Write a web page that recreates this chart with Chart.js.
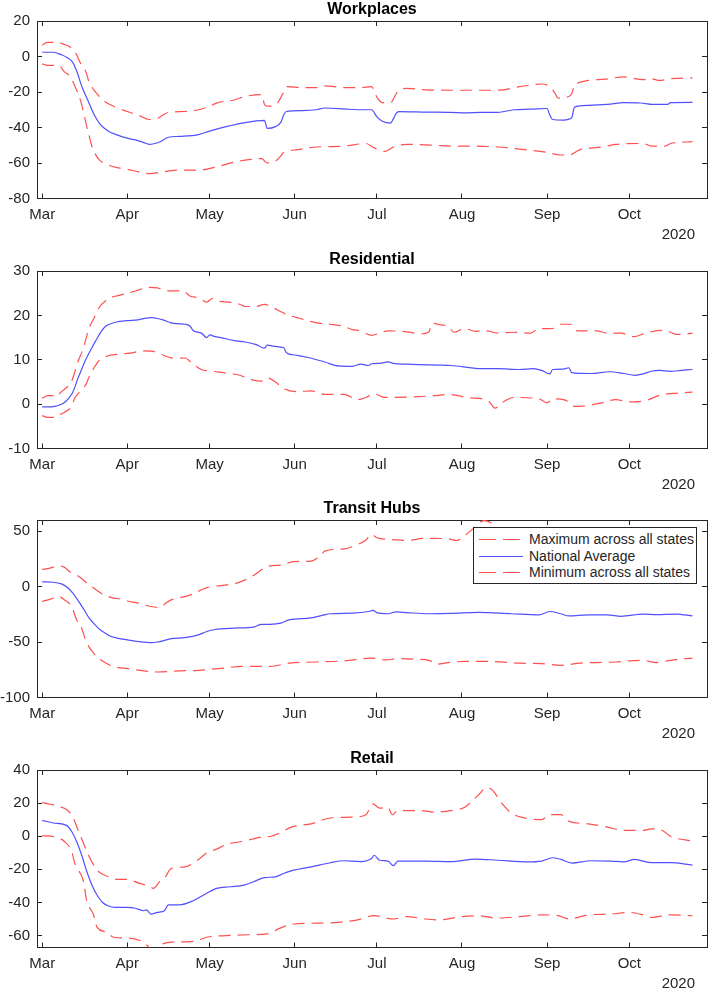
<!DOCTYPE html>
<html>
<head>
<meta charset="utf-8">
<script src="https://cdn.jsdelivr.net/npm/chart.js@4.4.1/dist/chart.umd.min.js"></script>
<style>
html,body{margin:0;padding:0;background:#fff;overflow:hidden;width:709px;height:989px;}
.panel{position:absolute;left:0;width:709px;height:250px;}
#legend{position:absolute;left:473px;top:527px;width:222px;height:55px;border:1px solid #262626;background:#fff;font-family:"Liberation Sans",Arial,sans-serif;font-size:14px;color:#262626;}
#legend .row{position:absolute;left:0;height:17px;width:222px;}
#legend svg{position:absolute;left:5px;top:0;}
#legend span{position:absolute;left:55px;top:0;line-height:17px;white-space:nowrap;}
</style>
</head>
<body>
<canvas id="c0" class="panel" width="709" height="250" style="top:0px"></canvas>
<canvas id="c1" class="panel" width="709" height="250" style="top:250px"></canvas>
<canvas id="c2" class="panel" width="709" height="250" style="top:499px"></canvas>
<canvas id="c3" class="panel" width="709" height="250" style="top:749px"></canvas>
<div id="legend"></div>
<script>
// ---- Data (x = days since 1 March 2020) ----
const startDate = "2020-03-01";
const yearLabel = "2020";
const monthDays = [0, 31, 61, 92, 122, 153, 184, 214];
const monthLabels = ["Mar", "Apr", "May", "Jun", "Jul", "Aug", "Sep", "Oct"];
const chartTitles = ["Workplaces", "Residential", "Transit Hubs", "Retail"];
const seriesNames = ["Maximum across all states", "National Average", "Minimum across all states"];

const workTicks = [-80, -60, -40, -20, 0, 20];
const resTicks = [-10, 0, 10, 20, 30];
const transitTicks = [-100, -50, 0, 50];
const retailTicks = [-60, -40, -20, 0, 20, 40];

const workMax = [[0,6.2],[1,7.5],[2,8],[5,8],[8,6.8],[10,5.5],[12,2.4],[13,-0.5],[14,-4],[16,-9],[17,-14],[18,-17],[20,-21],[22,-24.5],[26,-28],[31,-31],[35,-33],[39,-35.5],[42,-35],[44,-33],[46,-31.5],[52,-31],[57,-30],[61,-28],[64,-26],[70,-24.5],[74,-22.5],[80,-21.5],[81,-27],[82,-28],[85,-27.5],[87,-23],[88,-20],[89,-17],[95,-17.5],[100,-17.5],[103,-16.5],[110,-17.5],[116,-17.5],[120,-17],[122,-23],[124,-26],[127,-26],[129,-21],[130,-19],[133,-18],[140,-18.8],[149,-19],[157,-19],[166,-19],[174,-17],[182,-15.5],[185,-17],[187,-21],[188,-23.5],[191,-23],[193,-21],[194,-16],[195,-15],[199,-13.5],[205,-12.8],[212,-11.5],[219,-13],[222,-12.5],[225,-13.5],[229,-12.5],[237,-12]];
const workAvg = [[0,2.4],[4,2.4],[7,1],[9,-0.5],[11,-3],[12,-6],[13,-10],[14,-15],[15,-19],[17,-26],[19,-33],[21,-38],[24,-42],[27,-44],[31,-46],[34,-47],[37,-48.5],[39,-49.5],[41,-49],[43,-48],[46,-45.5],[50,-45],[57,-44],[61,-42],[67,-39.5],[73,-37.5],[81,-36],[82,-40.5],[85,-39.5],[87,-37],[88,-33],[89,-31],[95,-30.5],[100,-30],[103,-29],[110,-29.5],[115,-30],[120,-30],[122,-34],[124,-36.5],[127,-37.5],[128,-35],[129,-32],[130,-31],[140,-31.3],[149,-31.5],[154,-31.8],[160,-31.5],[166,-31.5],[172,-30],[178,-29.7],[184,-29.3],[185,-33],[186,-35.5],[190,-35.8],[193,-34.5],[194,-28.5],[199,-27.5],[206,-27],[212,-26],[218,-26.2],[220,-26.5],[222,-27],[228,-27],[229,-26],[237,-25.8]];
const workMin = [[0,-4.2],[2,-5],[4,-5],[6,-5],[8,-8.5],[10,-11],[12,-17],[14,-25],[15,-31],[16,-38],[17,-44],[18,-50],[19,-54],[21,-58.5],[24,-61],[27,-62.5],[31,-63.5],[35,-65],[39,-66],[44,-65],[50,-64],[57,-64],[64,-62],[70,-59.5],[76,-58],[80,-57.5],[82,-60],[85,-59],[87,-56],[88,-54],[93,-52.5],[100,-51],[110,-50.5],[118,-49],[121,-51.5],[125,-53.5],[128,-51],[133,-49.5],[143,-50],[149,-50.5],[157,-50.5],[166,-51],[176,-52.5],[184,-54],[189,-55.5],[192,-55.5],[196,-52.5],[204,-51],[209,-49.5],[219,-49],[222,-50.5],[227,-50.5],[229,-49],[237,-48]];

const resMax = [[0,1.3],[2,1.9],[4,1.9],[5,1.6],[7,2.8],[9,3.8],[10.5,4.8],[12,7.5],[13,9.5],[15,12.6],[17,17],[19,19.5],[21,22],[23,23.2],[25,24],[28,24.5],[31,25],[34,25.5],[39,26.3],[42,26.2],[45,25.5],[50,25.5],[52,25.3],[54,24.3],[57,24],[60,23],[62,23.8],[64,23.2],[68,23],[72,22.5],[74,22],[78,22],[81,22.5],[84,21.8],[87,20.8],[90,20],[94,19.3],[100,18.3],[105,18],[110,17.5],[113,16.8],[116,16.5],[120,15.5],[123,16],[126,16.5],[133,16.3],[138,15.8],[141,16.3],[142,18.2],[146,17.8],[148,17.6],[150,16.2],[154,17],[158,16.4],[162,16.5],[166,16],[172,16.2],[178,16],[181,17],[185,17],[187,17.2],[189,18],[193,18],[195,16.5],[202,16.5],[206,16],[211,16],[215.5,15.2],[220,16],[225,16.6],[229,16.2],[231,15.7],[235,15.8],[237,16]];
const resAvg = [[0,-0.6],[3,-0.6],[5,-0.45],[8,0.3],[10,1.6],[11,2.5],[12,4],[13,5.8],[14,7.3],[15,8.8],[16,10.2],[18,12.6],[20,14.8],[21,15.9],[23,17.5],[25,18.1],[27,18.5],[31,18.8],[35,19],[38,19.4],[40,19.5],[42,19.3],[44,19],[47,18.3],[50,18.1],[52,18],[54,17.5],[55,16.6],[58,16],[60,15],[61,15.6],[63,15.2],[65,15],[70,14.3],[74,14],[78,13.4],[81,12.6],[82,13.3],[85,13],[88,12.7],[89,11.6],[93,11],[97,10.5],[100,10],[103,9.5],[108,8.6],[113,8.5],[116,9],[119,8.7],[120,9.1],[123,9.2],[126,9.5],[128,9.2],[133,9],[137,8.9],[145,8.8],[149,8.7],[155,8.3],[159,8],[166,8],[174,7.8],[179,8],[182,7.6],[185,6.8],[186,7.8],[190,7.9],[192,8.2],[193,7.1],[200,6.9],[207,7.3],[212,6.9],[216,6.5],[219,6.8],[222,7.4],[225,7.6],[229,7.4],[233,7.6],[237,7.8]];
const resMin = [[0,-2.6],[2,-3],[5,-3],[7,-2.2],[9,-1.5],[10.5,-0.7],[12,1.5],[14,3],[16,4.5],[17,6],[19,8.3],[21,10],[24,10.9],[27,11.2],[32,11.5],[37,12],[41,11.8],[45,10.8],[49,10.3],[52,10.4],[55,9],[58,7.8],[62,7.4],[67,7],[72,6.5],[77,5.4],[80,5.2],[82,5.9],[85,5],[88,3.5],[93,2.8],[98,3],[103,2.2],[110,2.2],[115,1],[118,1.5],[121,2.3],[125,1.5],[133,1.6],[143,1.9],[148,2.2],[156,1.4],[159,1.3],[163,0.5],[165,-0.9],[168,0.5],[172,1.5],[181,1.2],[184,0.3],[186,1.2],[190,1],[192,0.5],[194,-0.5],[199,-0.3],[204,0.3],[209,1],[214,0.5],[220,0.8],[225,2],[232,2.5],[237,2.7]];

const transitMax = [[0,15.5],[2,16.2],[4,17.5],[6,18.5],[8,17.5],[10,13.5],[12.5,10.4],[14,8],[15.6,4.5],[18,0],[20,-3.5],[22,-6.8],[26,-10.4],[28,-11],[31,-13],[35,-15],[39.6,-18],[43,-19],[45,-15],[47,-12],[53.6,-8],[60,-1],[67,1.5],[72,4],[77,10],[82,18],[87.5,19.5],[91.6,22.5],[98,23],[101.5,28],[103,32],[110,34],[115,38],[118,42],[120,47],[122,44],[126,42.5],[129.6,42],[133,41.5],[139.5,43.5],[148,43],[151,41.5],[154,46],[158,54],[161,59.5],[164,57],[167.5,50],[172,46],[178,44],[185,45],[192,43],[199,42],[206,41],[213,42],[220,40],[228,41],[237,40]];
const transitAvg = [[0,4.2],[4,3.9],[7,2.4],[9.5,-1.5],[11,-5.5],[12.5,-10.4],[14,-16],[15.6,-22.3],[17,-28],[18.6,-32.7],[21,-38.7],[23,-42],[24.7,-44.6],[27.7,-46.7],[31,-48],[35,-49.5],[40,-50.5],[42,-50],[44,-49],[47,-47],[52,-46],[57,-43.5],[60,-40.5],[63,-38.7],[70,-37.5],[77,-36.5],[80,-34],[83,-34],[87,-33],[90,-30],[98,-28.2],[102,-26],[105,-24.5],[113,-24],[119,-22.5],[120.5,-21.5],[122,-23.5],[126,-24.5],[129,-22.8],[133,-23.5],[141,-24.5],[149,-24.2],[159,-23.2],[171,-24.5],[181,-25.5],[185,-22.5],[189,-24.5],[192,-26.5],[199,-25.5],[206,-25.5],[211,-26.8],[219,-24.8],[224,-25.3],[231,-24.8],[237,-26.5]];
const transitMin = [[0,-13.4],[3,-11.3],[6,-8.9],[8,-11.9],[10.7,-17.9],[12.5,-29.8],[14.3,-37.2],[16.2,-50.6],[18.6,-59.5],[21,-65.5],[24,-70],[26,-72],[31,-74],[37,-76],[42,-77],[50,-76],[57,-75.5],[64,-74],[73.5,-72],[83,-72],[90,-69],[100,-68],[110,-67],[120,-64.5],[125,-66],[129.6,-65],[136,-65.5],[141,-66.5],[143.6,-70],[148,-68.5],[154,-67.5],[163,-67.5],[174,-69],[182,-69.5],[189,-71],[196,-69],[202,-68.5],[209,-68],[214,-67],[219,-66.5],[223.5,-68.5],[229,-66.5],[234,-65],[237,-64.5]];

const retailMax = [[0,20.4],[3,19.3],[6,18],[9,16],[11.3,11],[13,4],[14.5,-2],[16.2,-9],[18.6,-17],[21,-22],[23.5,-24],[27,-26],[31,-26],[35.5,-28.5],[39,-30],[40.5,-31.5],[43,-27],[44.5,-25.5],[47,-19.5],[52,-18.5],[57,-14],[60,-10],[64,-7.5],[67,-5],[73.5,-3],[80,-0.5],[83.4,0],[86.7,2],[90.8,5.5],[98,7.5],[105,11],[113,11.5],[118,13],[120.5,19.5],[123,17],[126,17.5],[127.6,13],[129.6,15.5],[138,15.5],[143,14.5],[149,15.5],[154,17.5],[159,25],[162,29.5],[164,28],[167.5,20],[171,14],[176,11],[182,10],[185,13],[189,13],[192,9],[199,7.5],[206,5.5],[212,3.5],[219,3.5],[222,4.5],[226,3.5],[229,0],[237,-3]];
const retailAvg = [[0,9.6],[4,8],[9,6.4],[10.7,3],[12.5,-3],[14.3,-11],[16.2,-21],[18,-29],[19.8,-35],[22,-40],[24,-42],[26.5,-43],[28.5,-43],[31,-43],[34,-43.5],[37,-45],[38,-44.5],[39.6,-47],[42,-46],[44.5,-45],[46,-41.5],[50,-41.5],[55,-39],[59.4,-35],[63.6,-31.5],[68.5,-30.5],[73.5,-29.5],[77,-27.5],[81,-25],[85,-24.5],[88,-22.5],[91.6,-20.5],[98,-18.5],[105,-16],[110,-14.8],[116,-15.3],[120,-13.5],[121,-11.5],[123,-14.5],[126,-15],[128,-17.8],[129.6,-15],[139.5,-15],[149,-15.3],[158,-13.8],[166,-14.5],[177,-15.5],[182,-15],[186,-13],[189,-14],[193,-16.2],[200,-14.8],[207,-15],[212,-15.5],[216,-14],[222,-16],[229,-16],[237,-17.5]];
const retailMin = [[0,0.4],[5,-0.6],[8,-3],[10.7,-9],[12,-17],[15,-27],[16.2,-39],[18.6,-47],[20,-55],[23.5,-58],[26,-61],[31,-61.5],[37,-64],[39.6,-67.8],[41,-68],[44,-65],[47,-64],[55,-63.5],[60,-61],[67,-60],[75,-59.5],[82,-59],[86.7,-55.5],[91.6,-53],[100,-52.5],[108,-52],[115,-50.5],[121,-48],[128,-50],[133,-48.5],[139.5,-50],[144.5,-50.5],[153,-48.5],[159,-48],[166,-49.5],[174,-48.5],[182,-47.5],[188,-48],[192,-50],[199,-47.5],[207,-47],[214,-46],[219,-47.5],[222,-49],[229,-47.5],[237,-48]];

// ---- Styling ----
const FONT = '"Liberation Sans", Arial, Helvetica, sans-serif';
const AXIS = '#262626';
const RED = 'rgb(255,80,80)';
const BLUE = 'rgb(80,80,255)';
const DASH = [12, 7];
const X_MIN = -1.9, X_MAX = 242.3;

const yearPlugin = {
  id: 'yearLabel',
  afterDraw(chart) {
    const {ctx, chartArea} = chart;
    ctx.save();
    ctx.font = '15px ' + FONT;
    ctx.fillStyle = AXIS;
    ctx.textAlign = 'right';
    ctx.textBaseline = 'middle';
    ctx.fillText(yearLabel, chartArea.right - 12, chartArea.bottom + 36.5);
    ctx.restore();
  }
};

function toXY(arr) { return arr.map(p => ({x: p[0], y: p[1]})); }

function axisCommon() {
  return {
    grid: {display: true, drawOnChartArea: false, drawTicks: true, tickLength: -5, color: AXIS, lineWidth: 1},
    border: {display: true, color: AXIS, width: 1}
  };
}

function makeChart(id, title, yMin, yMax, yTicks, maxS, avgS, minS) {
  const setX = a => { a.ticks = monthDays.map(v => ({value: v})); };
  const setY = a => { a.ticks = yTicks.map(v => ({value: v})); };
  new Chart(document.getElementById(id), {
    type: 'line',
    data: {
      datasets: [
        {label: seriesNames[0], data: toXY(maxS), borderColor: RED, borderDash: DASH, xAxisID: 'x', yAxisID: 'y'},
        {label: seriesNames[1], data: toXY(avgS), borderColor: BLUE, xAxisID: 'x', yAxisID: 'y'},
        {label: seriesNames[2], data: toXY(minS), borderColor: RED, borderDash: DASH, xAxisID: 'x', yAxisID: 'y'}
      ]
    },
    options: {
      responsive: false,
      animation: false,
      devicePixelRatio: 1,
      layout: {padding: {top: 0, left: 0, right: 2, bottom: 0}},
      elements: {point: {radius: 0}, line: {borderWidth: 1.2, cubicInterpolationMode: 'monotone', fill: false}},
      plugins: {
        legend: {display: false},
        tooltip: {enabled: false},
        title: {display: true, text: title, fullSize: false, color: '#000',
          font: {family: FONT, size: 16, weight: 'bold', lineHeight: 1},
          padding: {top: 0, bottom: 3}}
      },
      scales: {
        x: Object.assign(axisCommon(), {
          type: 'linear', position: 'bottom', min: X_MIN, max: X_MAX,
          afterBuildTicks: setX,
          afterFit: a => { a.height = 51.5; },
          ticks: {autoSkip: false, maxRotation: 0, padding: 12.5, color: AXIS,
            font: {family: FONT, size: 15},
            callback: v => { const i = monthDays.indexOf(v); return i >= 0 ? monthLabels[i] : ''; }}
        }),
        x2: Object.assign(axisCommon(), {
          type: 'linear', position: 'top', min: X_MIN, max: X_MAX,
          afterBuildTicks: setX,
          afterFit: a => { a.height = 0; },
          ticks: {display: false}
        }),
        y: Object.assign(axisCommon(), {
          type: 'linear', position: 'left', min: yMin, max: yMax,
          afterBuildTicks: setY,
          afterFit: a => { a.width = 37; },
          ticks: {padding: 12, color: AXIS, font: {family: FONT, size: 15}}
        }),
        y2: Object.assign(axisCommon(), {
          type: 'linear', position: 'right', min: yMin, max: yMax,
          afterBuildTicks: setY,
          afterFit: a => { a.width = 0; },
          ticks: {display: false}
        })
      }
    },
    plugins: [yearPlugin]
  });
}

makeChart('c0', chartTitles[0], -80, 20, workTicks, workMax, workAvg, workMin);
makeChart('c1', chartTitles[1], -10, 30, resTicks, resMax, resAvg, resMin);
makeChart('c2', chartTitles[2], -100, 60, transitTicks, transitMax, transitAvg, transitMin);
makeChart('c3', chartTitles[3], -67.2, 40, retailTicks, retailMax, retailAvg, retailMin);

// ---- Legend (HTML, real text) ----
const legendStyles = [
  {color: RED, dash: '17 7'},
  {color: BLUE, dash: ''},
  {color: RED, dash: '17 7'}
];
const legendCenters = [11.3, 28, 44.7];
const lg = document.getElementById('legend');
seriesNames.forEach((name, i) => {
  const row = document.createElement('div');
  row.className = 'row';
  row.style.top = (legendCenters[i] - 8.5) + 'px';
  const st = legendStyles[i];
  row.innerHTML = '<svg width="44" height="17"><line x1="0" y1="8.5" x2="44" y2="8.5" stroke="' + st.color +
    '" stroke-width="1.2"' + (st.dash ? ' stroke-dasharray="' + st.dash + '"' : '') + '/></svg><span></span>';
  row.querySelector('span').textContent = name;
  lg.appendChild(row);
});
</script>
</body>
</html>
